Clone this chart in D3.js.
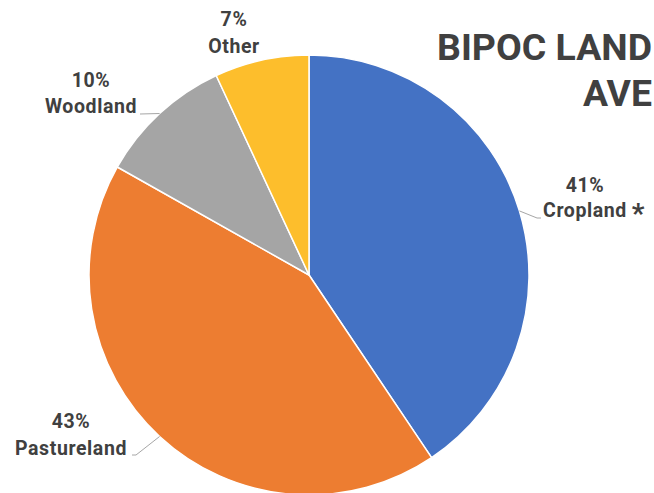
<!DOCTYPE html>
<html>
<head>
<meta charset="utf-8">
<script src="https://cdn.jsdelivr.net/npm/d3@7"></script>
<style>
  html, body { margin: 0; padding: 0; background: #fff; overflow: hidden; }
  svg { display: block; }
  text { font-family: Roboto, "Open Sans", sans-serif; font-weight: 700; fill: #404040; }
</style>
</head>
<body>
<svg id="chart" width="654" height="493"></svg>
<script>
// Data
const categories = ["Cropland", "Pastureland", "Woodland", "Other"];
const values = [41, 43, 10, 7];
const percentLabels = ["41%", "43%", "10%", "7%"];
const colors = ["#4472C4", "#ED7D31", "#A5A5A5", "#FDBE2C"];
const titleLines = ["BIPOC LAND", "AVE"];

const svg = d3.select("#chart");
const W = 654, H = 493;
const cx = 309, cy = 275, R = 220;

const g = svg.append("g").attr("transform", `translate(${cx},${cy})`);

const pie = d3.pie().sort(null).value(d => d.value);
const arcs = pie(categories.map((c, i) => ({ name: c, value: values[i], label: percentLabels[i], color: colors[i] })));
const arc = d3.arc().innerRadius(0).outerRadius(R);
const edge = d3.arc().innerRadius(R).outerRadius(R);

g.selectAll("path.slice").data(arcs).enter().append("path")
  .attr("class", "slice")
  .attr("d", arc)
  .attr("fill", d => d.data.color)
  .attr("stroke", "#fff")
  .attr("stroke-width", 1.5)
  .attr("stroke-linejoin", "round");

// label layout (offsets relative to pie centre)
const labelPos = {
  "Cropland":    { x: 276,  y1: -83,  y2: -58,  line: [[228, -57], [232, -57]] },
  "Pastureland": { x: -238, y1: 153,  y2: 180,  line: [[-173, 180], [-177, 180]] },
  "Woodland":   { x: -218, y1: -188, y2: -162, line: [[-169, -161]] },
  "Other":      { x: -75,  y1: -249, y2: -222, line: null }
};

arcs.forEach(d => {
  const p = labelPos[d.data.name];
  if (p.line) {
    const a = edge.centroid(d);
    const pts = [a].concat(p.line);
    g.append("path")
      .attr("d", d3.line()(pts))
      .attr("fill", "none")
      .attr("stroke", "#A6A6A6")
      .attr("stroke-width", 1);
  }
  g.append("text")
    .attr("x", p.x).attr("y", p.y1)
    .attr("text-anchor", "middle")
    .style("font-size", "19.5px")
    .style("letter-spacing", "0.6px")
    .text(d.data.label);
  g.append("text")
    .attr("x", p.x).attr("y", p.y2)
    .attr("text-anchor", "middle")
    .style("font-size", "19.5px")
    .style("letter-spacing", "0.6px")
    .text(d.data.name);
  if (d.data.name === "Cropland") {
    g.append("text")
      .attr("x", p.x + 53).attr("y", p.y2 + 6)
      .attr("text-anchor", "middle")
      .style("font-size", "28px")
      .text("*");
  }
});

// Title, right-aligned to the page edge
const title = svg.append("g");
title.append("text")
  .attr("x", 437).attr("y", 60)
  .attr("textLength", 215)
  .attr("lengthAdjust", "spacingAndGlyphs")
  .style("font-size", "36.5px")
  .text(titleLines[0]);
title.append("text")
  .attr("x", 583).attr("y", 106)
  .attr("textLength", 69)
  .attr("lengthAdjust", "spacingAndGlyphs")
  .style("font-size", "36.5px")
  .text(titleLines[1]);
</script>
</body>
</html>
